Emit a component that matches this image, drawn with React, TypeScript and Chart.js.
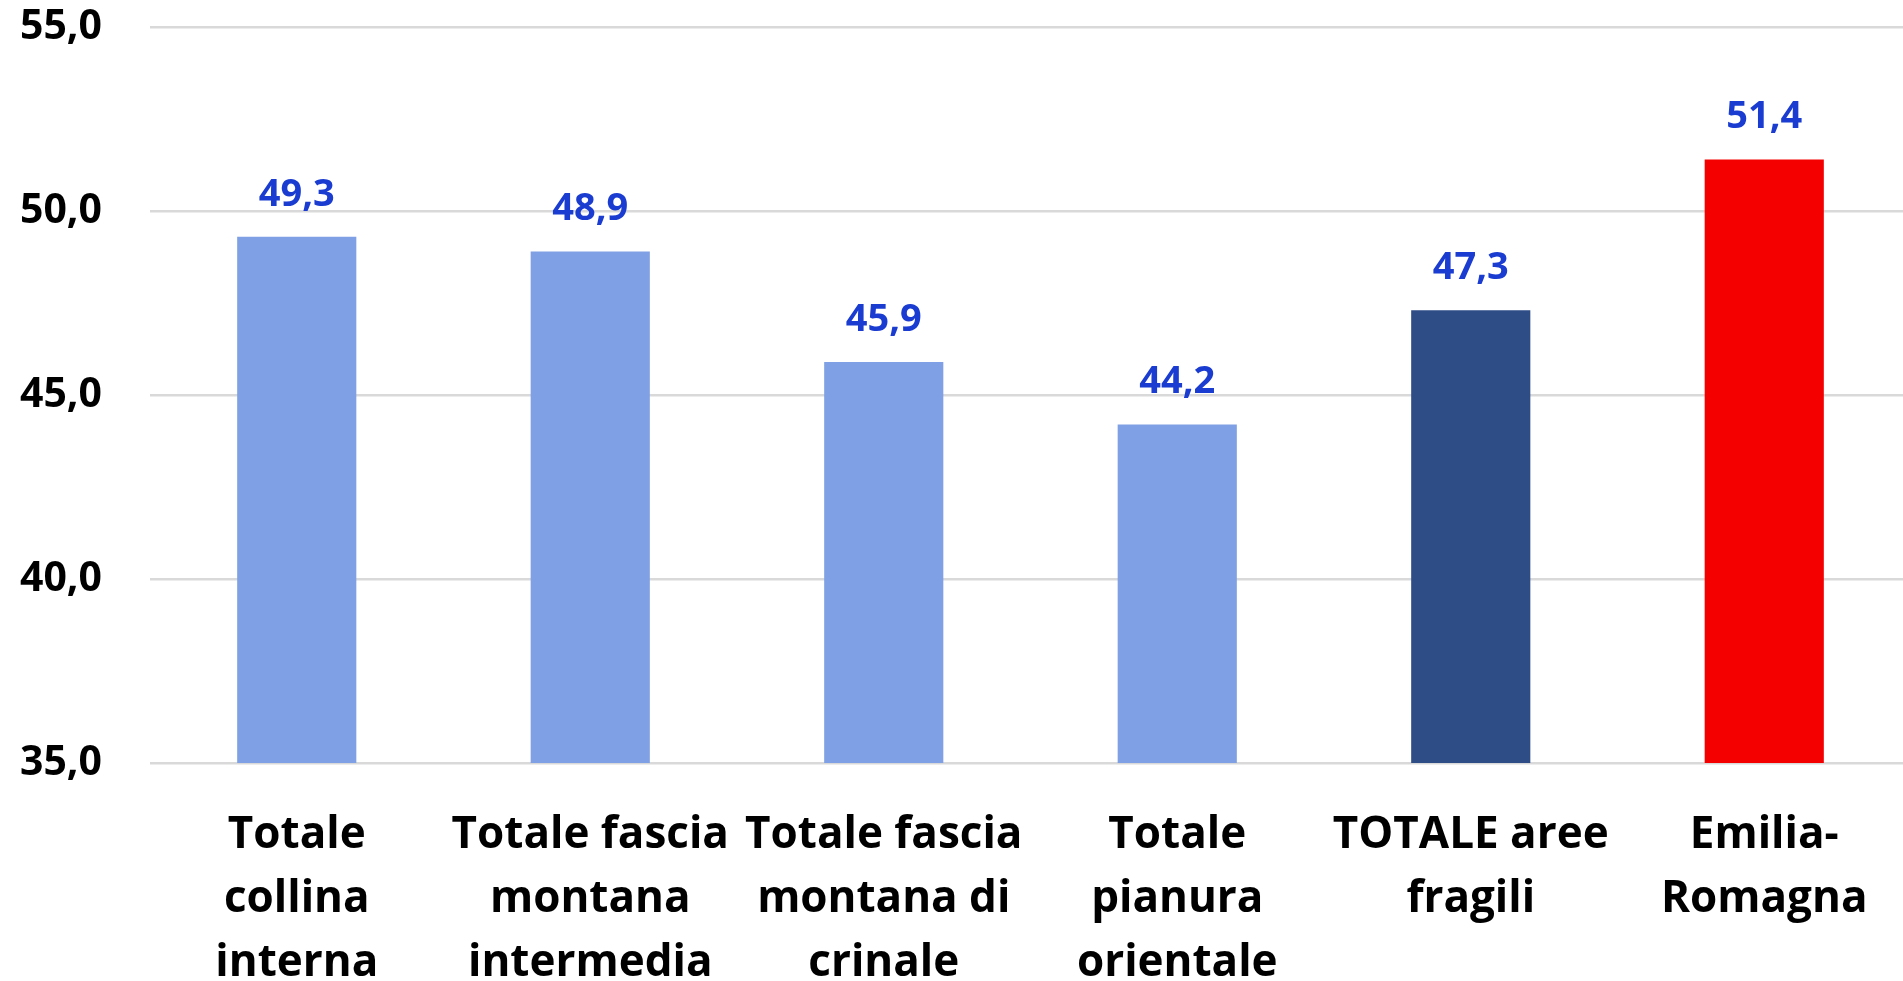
import React, { useEffect, useRef } from "react";
import { Chart, registerables } from "chart.js";

Chart.register(...registerables);

const categories: string[][] = [
  ["Totale", "collina", "interna"],
  ["Totale fascia", "montana", "intermedia"],
  ["Totale fascia", "montana di", "crinale"],
  ["Totale", "pianura", "orientale"],
  ["TOTALE aree", "fragili"],
  ["Emilia-", "Romagna"],
];
const values: number[] = [49.3, 48.9, 45.9, 44.2, 47.3, 51.4];
const barColors: string[] = ["#7fa0e4", "#7fa0e4", "#7fa0e4", "#7fa0e4", "#2e4d87", "#f50000"];
const yMin = 35;
const yMax = 55;
const yStep = 5;

const fmt = (v: number) => v.toFixed(1).replace(".", ",");

const FONT = '"Open Sans", "Noto Sans", sans-serif';

const valueLabels = {
  id: "valueLabels",
  afterDatasetsDraw(chart: any) {
    const ctx = chart.ctx;
    const meta = chart.getDatasetMeta(0);
    ctx.save();
    ctx.font = `bold 38px ${FONT}`;
    ctx.fillStyle = "#1a3cd0";
    ctx.textAlign = "center";
    ctx.textBaseline = "alphabetic";
    meta.data.forEach((el: any, i: number) => {
      ctx.fillText(fmt(values[i]), el.x, el.y - 31);
    });
    ctx.restore();
  },
};

export default function App() {
  const ref = useRef<HTMLCanvasElement | null>(null);
  useEffect(() => {
    if (!ref.current) return;
    const chart = new Chart(ref.current, {
      type: "bar",
      data: {
        labels: categories,
        datasets: [
          {
            data: values,
            backgroundColor: barColors,
            borderWidth: 0,
            barPercentage: 0.406,
            categoryPercentage: 1,
          },
        ],
      },
      options: {
        responsive: false,
        animation: false,
        layout: { padding: { top: 27, left: 0, right: 0, bottom: 0 } },
        plugins: {
          legend: { display: false },
          tooltip: { enabled: false },
          title: { display: false },
        },
        scales: {
          x: {
            grid: { display: false, drawTicks: false },
            border: { display: false },
            ticks: {
              color: "#000",
              padding: 40,
              maxRotation: 0,
              minRotation: 0,
              autoSkip: false,
              font: { family: FONT, weight: "bold", size: 44, lineHeight: "64px" },
            },
            afterFit: (scale: any) => {
              scale.height = 218;
              scale.paddingLeft = 0;
              scale.paddingRight = 0;
            },
          },
          y: {
            min: yMin,
            max: yMax,
            grid: { color: "#d9d9d9", lineWidth: 2.5, drawTicks: false },
            border: { display: false },
            ticks: {
              stepSize: yStep,
              color: "#000",
              padding: 48,
              font: { family: FONT, weight: "bold", size: 41 },
              callback: (v: any) => fmt(Number(v)),
            },
            afterFit: (scale: any) => {
              scale.width = 150;
              scale.paddingTop = 0;
              scale.paddingBottom = 0;
            },
          },
        },
      },
      plugins: [valueLabels],
    });
    return () => chart.destroy();
  }, []);
  return (
    <div style={{ position: "fixed", left: 0, top: 0, width: 1911, height: 981, background: "#fff" }}>
      <canvas ref={ref} width={1911} height={981} style={{ display: "block" }} />
    </div>
  );
}
